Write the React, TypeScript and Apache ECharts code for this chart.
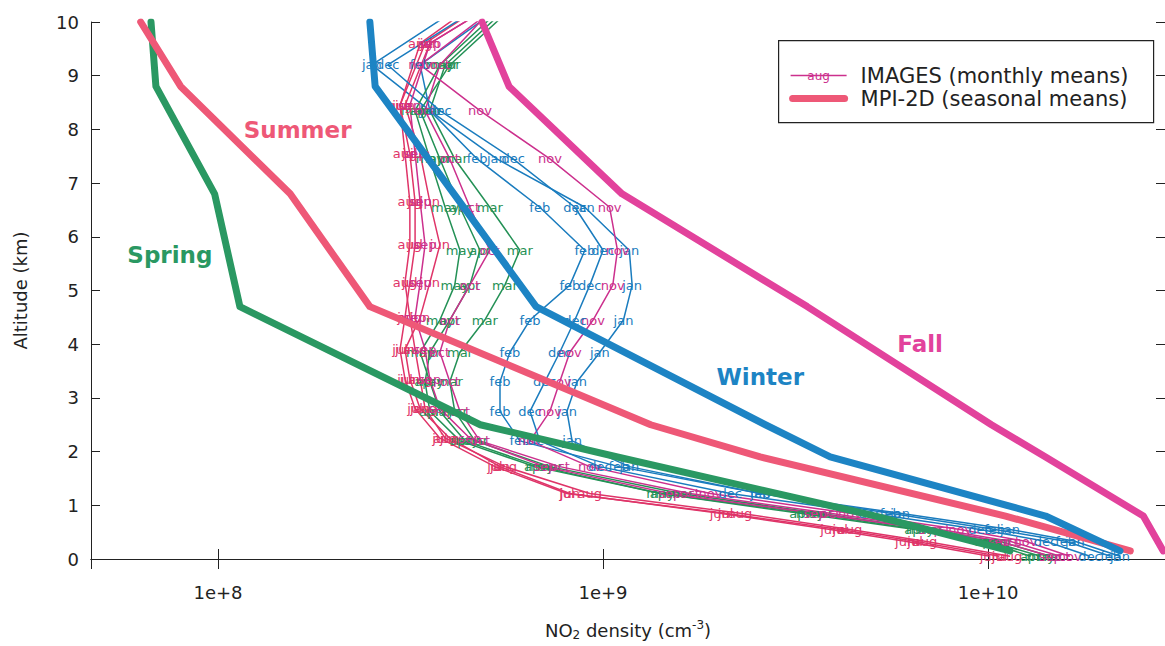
import React, { useEffect, useRef } from 'react';
import * as echarts from 'echarts';

// Altitude levels (km) of the IMAGES monthly profiles; the warm months sit
// on slightly higher levels. The top level lies above the plotted range.
const coldAltitudes = [0.05, 0.33, 0.55, 0.85, 1.22, 1.72, 2.2, 2.75, 3.3, 3.85, 4.45, 5.1, 5.75, 6.55, 7.45, 8.35, 9.2, 10.4];
const warmAltitudes = [0.05, 0.33, 0.55, 0.85, 1.22, 1.72, 2.25, 2.8, 3.35, 3.9, 4.5, 5.15, 5.85, 6.65, 7.55, 8.45, 9.6, 10.4];

// IMAGES monthly mean NO2 densities (cm^-3), bottom to top
const jan = [2.2e10, 1.68e10, 1.14e10, 5.91e9, 2.56e9, 1.17e9, 8.31e8, 8.06e8, 8.56e8, 9.81e8, 1.13e9, 1.19e9, 1.17e9, 8.97e8, 5.3e8, 3.55e8, 2.51e8, 4.51e8];
const feb = [2.08e10, 1.59e10, 1.04e10, 5.57e9, 2.56e9, 1.1e9, 6.08e8, 5.4e8, 5.4e8, 5.73e8, 6.46e8, 8.2e8, 8.97e8, 6.85e8, 4.71e8, 3.55e8, 3.35e8, 5.73e8];
const mar = [1.45e10, 1.07e10, 7.07e9, 3.66e9, 1.59e9, 7.28e8, 4.65e8, 4.12e8, 4.0e8, 4.25e8, 4.93e8, 5.56e8, 6.08e8, 5.08e8, 4.12e8, 3.55e8, 3.89e8, 5.9e8];
const apr = [1.29e10, 9.82e9, 6.46e9, 3.25e9, 1.41e9, 6.65e8, 4.25e8, 3.55e8, 3.45e8, 3.55e8, 4.0e8, 4.51e8, 4.79e8, 4.25e8, 3.77e8, 3.35e8, 4.0e8, 6.08e8];
const may = [1.37e10, 1.01e10, 6.66e9, 3.45e9, 1.41e9, 6.85e8, 4.38e8, 3.77e8, 3.55e8, 3.35e8, 3.77e8, 4.12e8, 4.25e8, 3.89e8, 3.55e8, 3.25e8, 3.77e8, 5.73e8];
const jun = [1.01e10, 6.09e9, 3.89e9, 2.01e9, 8.2e8, 5.4e8, 4.0e8, 3.35e8, 3.15e8, 3.06e8, 3.35e8, 3.55e8, 3.77e8, 3.55e8, 3.35e8, 3.06e8, 3.55e8, 5.4e8];
const jul = [1.07e10, 6.46e9, 4.13e9, 2.08e9, 8.06e8, 5.24e8, 3.77e8, 3.25e8, 3.06e8, 2.97e8, 3.06e8, 3.15e8, 3.25e8, 3.25e8, 3.15e8, 2.97e8, 3.45e8, 5.08e8];
const aug = [1.14e10, 6.86e9, 4.38e9, 2.27e9, 9.24e8, 5.56e8, 3.89e8, 3.45e8, 3.35e8, 3.25e8, 3.15e8, 3.06e8, 3.15e8, 3.15e8, 3.06e8, 2.97e8, 3.35e8, 4.79e8];
const sep = [1.45e10, 1.07e10, 7.07e9, 3.55e9, 1.49e9, 7.06e8, 4.51e8, 3.77e8, 3.55e8, 3.45e8, 3.25e8, 3.35e8, 3.45e8, 3.35e8, 3.25e8, 3.15e8, 3.55e8, 5.4e8];
const oct = [1.54e10, 1.14e10, 7.51e9, 3.89e9, 1.68e9, 7.72e8, 4.79e8, 4.25e8, 4.0e8, 3.77e8, 4.0e8, 4.51e8, 5.08e8, 4.51e8, 4.0e8, 3.45e8, 3.77e8, 5.4e8];
const nov = [1.63e10, 1.25e10, 8.46e9, 4.38e9, 1.9e9, 9.24e8, 6.46e8, 7.28e8, 7.72e8, 8.2e8, 9.42e8, 1.06e9, 1.09e9, 1.04e9, 7.28e8, 4.79e8, 3.35e8, 5.56e8];
const dec = [1.84e10, 1.41e10, 9.53e9, 4.94e9, 2.14e9, 9.81e8, 6.85e8, 6.46e8, 7.06e8, 7.72e8, 8.45e8, 9.24e8, 1.0e9, 8.45e8, 5.84e8, 3.77e8, 2.76e8, 5.08e8];

// Altitude levels (km) of the MPI-2D seasonal profiles
const seasonAltitudes = [0.15, 0.8, 1.9, 2.5, 4.7, 6.8, 8.8, 10];

// MPI-2D seasonal mean NO2 densities (cm^-3), bottom to top
const spring = [1.14e10, 5.1e9, 1.09e9, 4.8e8, 1.14e8, 9.8e7, 6.9e7, 6.7e7];
const summer = [2.34e10, 1.11e10, 2.56e9, 1.33e9, 2.48e8, 1.54e8, 8.0e7, 6.3e7];
const fall = [2.85e10, 2.53e10, 1.41e10, 1.02e10, 3.39e9, 1.12e9, 5.7e8, 4.85e8];
const winter = [2.2e10, 1.41e10, 3.89e9, 2.64e9, 6.7e8, 4.1e8, 2.56e8, 2.48e8];

// Season name annotations: [density, altitude]
const seasonLabelAt: Record<string, [number, number]> = {
  Spring: [7.5e7, 5.67],
  Summer: [1.61e8, 7.99],
  Winter: [2.56e9, 3.38],
  Fall: [6.66e9, 4.01],
};

const yTicks = [0, 1, 2, 3, 4, 5, 6, 7, 8, 9, 10];

const C_WINTER = '#1d84c4';
const C_SPRING = '#2a9862';
const C_SUMMER = '#ee5877';
const C_FALL = '#e2429c';

const T_WINTER = '#1a7cbe';
const T_SPRING = '#249156';
const T_SUMMER = '#df3468';
const T_FALL = '#cc308d';

const months = [
  { name: 'jan', values: jan, color: T_WINTER, alts: coldAltitudes },
  { name: 'feb', values: feb, color: T_WINTER, alts: coldAltitudes },
  { name: 'mar', values: mar, color: T_SPRING, alts: coldAltitudes },
  { name: 'apr', values: apr, color: T_SPRING, alts: coldAltitudes },
  { name: 'may', values: may, color: T_SPRING, alts: coldAltitudes },
  { name: 'jun', values: jun, color: T_SUMMER, alts: warmAltitudes },
  { name: 'jul', values: jul, color: T_SUMMER, alts: warmAltitudes },
  { name: 'aug', values: aug, color: T_SUMMER, alts: warmAltitudes },
  { name: 'sep', values: sep, color: T_FALL, alts: warmAltitudes },
  { name: 'oct', values: oct, color: T_FALL, alts: coldAltitudes },
  { name: 'nov', values: nov, color: T_FALL, alts: coldAltitudes },
  { name: 'dec', values: dec, color: T_WINTER, alts: coldAltitudes },
];

const seasons = [
  { name: 'Spring', values: spring, color: C_SPRING },
  { name: 'Summer', values: summer, color: C_SUMMER },
  { name: 'Winter', values: winter, color: C_WINTER },
  { name: 'Fall', values: fall, color: C_FALL },
];

const FONT = 'DejaVu Sans';
const X_MIN = 4.68e7;
const X_MAX = 2.88e10;

const powerLabel = (v: number) => {
  const e = Math.log10(v);
  const r = Math.round(e);
  return Math.abs(e - r) < 1e-6 ? '1e+' + r : '';
};

export default function App() {
  const ref = useRef<HTMLDivElement>(null);

  useEffect(() => {
    document.body.style.margin = '0';
    const chart = echarts.init(ref.current!, null, { renderer: 'svg' });

    const monthSeries = months.map((m) => ({
      type: 'line',
      name: m.name,
      data: m.values.map((v, i) => [v, m.alts[i]]),
      xAxisIndex: 0,
      yAxisIndex: 0,
      clip: true,
      symbol: 'circle',
      symbolSize: 1,
      showSymbol: true,
      itemStyle: { color: 'rgba(0,0,0,0)' },
      lineStyle: { color: m.color, width: 1.5 },
      label: {
        show: true,
        position: 'inside',
        formatter: () => m.name,
        color: m.color,
        fontFamily: FONT,
        fontSize: 13,
      },
      emphasis: { disabled: true },
      z: 2,
    }));

    const seasonSeries = seasons.map((s) => ({
      type: 'line',
      name: s.name,
      data: s.values.map((v, i) => [v, seasonAltitudes[i]]),
      xAxisIndex: 0,
      yAxisIndex: 0,
      symbol: 'none',
      lineStyle: { color: s.color, width: 7, cap: 'round', join: 'round' },
      emphasis: { disabled: true },
      z: 3,
      markPoint: {
        symbol: 'rect',
        symbolSize: 1,
        itemStyle: { color: 'rgba(0,0,0,0)' },
        label: {
          show: true,
          position: 'inside',
          formatter: s.name,
          color: s.color,
          fontFamily: FONT,
          fontWeight: 'bold',
          fontSize: 23,
        },
        data: [{ coord: seasonLabelAt[s.name] }],
      },
    }));

    const logAxisBase = {
      type: 'log',
      logBase: 10,
      min: X_MIN,
      max: X_MAX,
      splitLine: { show: false },
      minorTick: { show: false },
      axisLine: { show: true, lineStyle: { color: '#222', width: 1 } },
      axisTick: { show: true, inside: true, length: 10, lineStyle: { color: '#222', width: 1 } },
    };

    const valueAxisBase = {
      type: 'value',
      min: 0,
      max: 10,
      interval: 1,
      splitLine: { show: false },
      axisLine: { show: true, lineStyle: { color: '#222', width: 1 } },
      axisTick: { show: true, inside: true, length: 9, lineStyle: { color: '#222', width: 1 } },
    };

    chart.setOption({
      animation: false,
      backgroundColor: '#ffffff',
      grid: { left: 91, right: 0, top: 22, bottom: 83, containLabel: false },
      xAxis: [
        {
          ...logAxisBase,
          position: 'bottom',
          name: 'NO{sub|2} density (cm{sup|-3})',
          nameLocation: 'middle',
          nameGap: 60,
          nameTextStyle: {
            fontFamily: FONT,
            fontSize: 18,
            color: '#222',
            rich: {
              sub: { fontFamily: FONT, fontSize: 12, color: '#222', padding: [10, 0, 0, 0] },
              sup: { fontFamily: FONT, fontSize: 12, color: '#222', padding: [0, 0, 10, 0] },
            },
          },
          axisLabel: {
            show: true,
            formatter: powerLabel,
            showMinLabel: false,
            showMaxLabel: false,
            margin: 24,
            fontFamily: FONT,
            fontSize: 18,
            color: '#222',
          },
        },
        {
          ...logAxisBase,
          position: 'top',
          axisLabel: { show: false },
        },
      ],
      yAxis: [
        {
          ...valueAxisBase,
          position: 'left',
          name: 'Altitude (km)',
          nameLocation: 'middle',
          nameRotate: 90,
          nameGap: 62,
          nameTextStyle: { fontFamily: FONT, fontSize: 18, color: '#222' },
          axisLabel: {
            show: true,
            margin: 12,
            fontFamily: FONT,
            fontSize: 18,
            color: '#222',
            formatter: (v: number) => (yTicks.includes(v) ? String(v) : ''),
          },
        },
        {
          ...valueAxisBase,
          position: 'right',
          axisLabel: { show: false },
        },
      ],
      series: [...monthSeries, ...seasonSeries],
      graphic: [
        {
          type: 'group',
          left: 778,
          top: 40,
          z: 100,
          children: [
            {
              type: 'rect',
              shape: { x: 0, y: 0, width: 375, height: 82 },
              style: { fill: '#ffffff', stroke: '#222', lineWidth: 1.2 },
            },
            {
              type: 'line',
              shape: { x1: 12, y1: 35, x2: 68, y2: 35 },
              style: { stroke: T_FALL, lineWidth: 1.5 },
            },
            {
              type: 'text',
              x: 40,
              y: 35,
              style: { text: 'aug', fill: T_FALL, font: '12px "DejaVu Sans"', align: 'center', verticalAlign: 'middle' },
            },
            {
              type: 'text',
              x: 82,
              y: 35,
              style: { text: 'IMAGES (monthly means)', fill: '#222', font: '21px "DejaVu Sans"', verticalAlign: 'middle' },
            },
            {
              type: 'line',
              shape: { x1: 14, y1: 58, x2: 66, y2: 58 },
              style: { stroke: C_SUMMER, lineWidth: 7, lineCap: 'round' },
            },
            {
              type: 'text',
              x: 82,
              y: 58,
              style: { text: 'MPI-2D (seasonal means)', fill: '#222', font: '21px "DejaVu Sans"', verticalAlign: 'middle' },
            },
          ],
        },
      ],
    });

    return () => chart.dispose();
  }, []);

  return (
    <div
      ref={ref}
      style={{ position: 'absolute', left: 0, top: 0, width: 1165, height: 646, background: '#fff' }}
    />
  );
}
